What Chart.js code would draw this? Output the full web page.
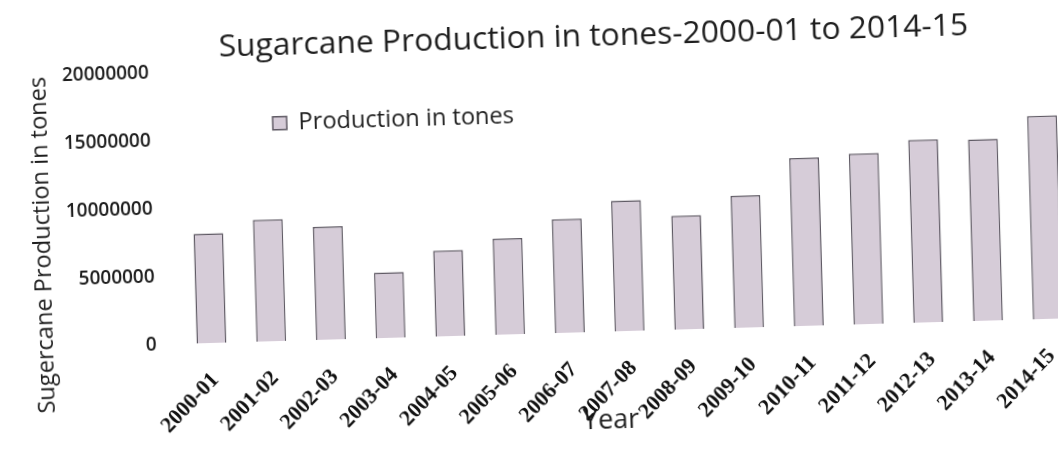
<!DOCTYPE html>
<html>
<head>
<meta charset="utf-8">
<script src="https://cdn.jsdelivr.net/npm/chart.js@4.4.0/dist/chart.umd.min.js"></script>
<style>
  html, body { margin: 0; padding: 0; background: #fff; overflow: hidden; }
  /* the printed page sits slightly tilted */
  #wrap { position: absolute; left: 0; top: 0; width: 1078px; height: 463px;
          transform-origin: 210px 342px; transform: rotate(-1.65deg); }
</style>
</head>
<body>
<div id="wrap"><canvas id="bar-chart" width="1078" height="463"></canvas></div>
<script>
const years = ["2000-01", "2001-02", "2002-03", "2003-04", "2004-05", "2005-06", "2006-07", "2007-08",
               "2008-09", "2009-10", "2010-11", "2011-12", "2012-13", "2013-14", "2014-15"];
const production = [8100000, 9000000, 8350000, 4850000, 6350000, 7100000, 8400000, 9650000,
                    8400000, 9750000, 12400000, 12600000, 13500000, 13400000, 15000000];
const yTicks = [0, 5000000, 10000000, 15000000, 20000000];

const barFill = '#d6ccd8';
const barEdge = '#5f5a64';
const textColor = '#1e1e1e';

// legend goes inside the plot under the top tick, title sits a bit left of centre
const placeBoxes = {
    id: 'placeBoxes',
    afterLayout(chart) {
        const legend = chart.legend;
        const pad = legend.options.labels.padding;
        legend.left = 279 - pad;
        legend.top = 113.5 - pad;
        legend.right = legend.left + 360;
        legend.bottom = legend.top + 60;

        const title = chart.titleBlock;
        const shift = 602 - (title.left + title.right) / 2;
        title.left += shift;
        title.right += shift;
    }
};

const ctx = document.getElementById("bar-chart");

let chartGraph = new Chart(ctx, {
    type: "bar",
    data: {
        labels: years,
        datasets: [{
            label: "Production in tones",
            data: production,
            backgroundColor: barFill,
            borderColor: barEdge,
            borderWidth: 1.5,
            barPercentage: 0.5,
            categoryPercentage: 1.0,
        }]
    },
    options: {
        responsive: false,
        animation: false,
        events: [],
        layout: {
            padding: { left: 0, right: 0, top: 0, bottom: 0 }
        },
        plugins: {
            title: {
                display: true,
                text: "Sugarcane Production in tones-2000-01 to 2014-15",
                color: textColor,
                font: { family: "Open Sans", size: 31.8, weight: "normal" },
                padding: { top: 28.9, bottom: 4.9 },
            },
            legend: {
                position: "chartArea",
                align: "start",
                labels: {
                    boxWidth: 14,
                    boxHeight: 13,
                    padding: 10,
                    color: textColor,
                    font: { family: "Open Sans", size: 23.6 },
                },
            },
            tooltip: { enabled: false },
        },
        scales: {
            x: {
                grid: { display: false, drawTicks: false },
                border: { display: false },
                ticks: {
                    minRotation: 45,
                    maxRotation: 45,
                    autoSkip: false,
                    padding: 24,
                    labelOffset: 3,
                    color: "#111",
                    font: { family: "Liberation Serif", size: 22, weight: "bold" },
                },
                title: {
                    display: true,
                    text: "Year" + "\u00a0".repeat(6),
                    color: textColor,
                    font: { family: "Open Sans", size: 27 },
                    padding: { top: 0, bottom: 14.8 },
                },
                afterFit: (axis) => {
                    axis.height = 463 - 343.3;
                    axis.paddingLeft = 0;
                    axis.paddingRight = 0;
                },
            },
            y: {
                min: 0,
                max: 20000000,
                afterBuildTicks: (axis) => { axis.ticks = yTicks.map(v => ({ value: v })); },
                grid: { display: false, drawTicks: false },
                border: { display: false },
                ticks: {
                    padding: 25,
                    color: textColor,
                    font: { family: "Open Sans", size: 19, weight: "600" },
                    callback: (v) => String(v),
                },
                title: {
                    display: true,
                    align: "end",
                    text: "Sugercane Production in tones",
                    color: textColor,
                    font: { family: "Open Sans", size: 23.6 },
                    padding: { top: 31.8, bottom: 0 },
                },
                afterFit: (axis) => { axis.width = 181.6; },
            },
        },
    },
    plugins: [placeBoxes],
});
</script>
</body>
</html>
